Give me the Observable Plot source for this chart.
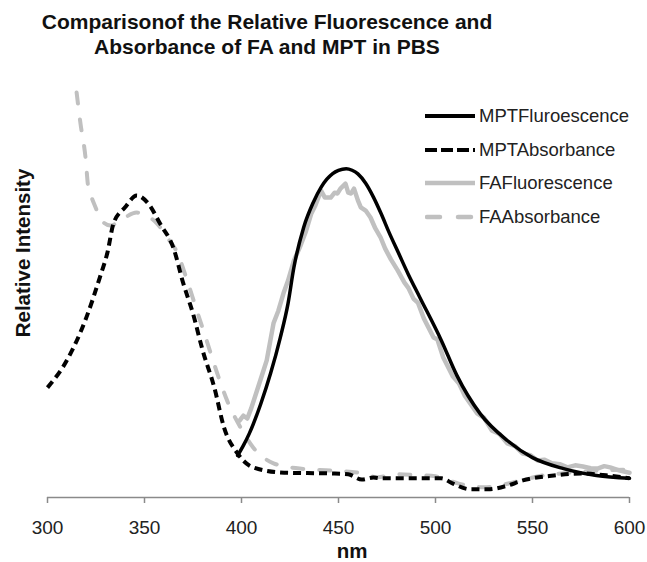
<!DOCTYPE html>
<html>
<head>
<meta charset="utf-8">
<script src="https://cdn.jsdelivr.net/npm/d3@7"></script>
<script src="https://cdn.jsdelivr.net/npm/@observablehq/plot@0.6"></script>
<style>
  html, body { margin: 0; padding: 0; background: #fff; }
  #wrap { position: relative; width: 647px; height: 562px; font-family: "Liberation Sans", Arial, sans-serif; color: #1a1a1a; overflow: hidden; }
  #wrap svg.plot { position: absolute; left: 0; top: 0; }
  .title { position: absolute; left: 17px; width: 500px; text-align: center; font-weight: bold; font-size: 21px; line-height: 25px; top: 9px; color: #111; white-space: nowrap; }
  .ylab { position: absolute; left: 23px; top: 253px; transform: translate(-50%, -50%) rotate(-90deg); font-weight: bold; font-size: 20.5px; line-height: 22px; white-space: nowrap; color: #111; }
  .xlab { position: absolute; left: 352px; top: 551px; transform: translate(-50%, -50%); font-weight: bold; font-size: 20.5px; line-height: 20px; color: #111; }
  .legend { position: absolute; left: 425px; top: 99px; }
  .legend .row { display: flex; align-items: center; height: 33.7px; font-size: 18.5px; color: #222; white-space: nowrap; }
  .legend svg { width: 54px; height: 12px; flex: none; }
</style>
</head>
<body>
<div id="wrap">
  <div class="title">Comparisonof the Relative Fluorescence and<br>Absorbance of FA and MPT in PBS</div>
  <div class="ylab">Relative Intensity</div>
  <div class="xlab">nm</div>
  <div class="legend" id="legend"></div>
</div>
<script>
// ---- data ----
const xTicks = [300, 350, 400, 450, 500, 550, 600];

const mptAbsNm = [300,310,320,327,331,334,340,346,352,358,365,370,375,380,386,391,398,406,422,446,455,462,468,472,489,503,509,518,527,537,545,561,575,589,600];
const mptAbsVal = [0.270,0.337,0.442,0.541,0.604,0.673,0.713,0.742,0.722,0.673,0.612,0.526,0.452,0.361,0.270,0.172,0.108,0.074,0.061,0.059,0.057,0.044,0.049,0.047,0.047,0.047,0.034,0.020,0.020,0.029,0.042,0.054,0.059,0.054,0.047];

const faAbsNm = [315,317,319.6,321,322,325,327,332.5,337.6,346,351,356.5,361.7,367,372,377,382,387.5,392.6,399.5,406,416.5,430,446,460,470,480,490,500,512,525,540,555,570,585,600];
const faAbsVal = [0.995,0.919,0.835,0.762,0.747,0.710,0.686,0.668,0.681,0.700,0.693,0.673,0.639,0.600,0.533,0.459,0.386,0.305,0.238,0.172,0.123,0.084,0.071,0.066,0.061,0.050,0.057,0.055,0.052,0.034,0.025,0.037,0.054,0.061,0.066,0.069];

const mptFluNm = [398,401,404,410,415,420,424,427,432,437,441,444,447,450,454,457,460,464,468,472,476,481,486,492,503,511,523,537,550,566,583,600];
const mptFluVal = [0.103,0.128,0.157,0.231,0.305,0.393,0.477,0.565,0.663,0.725,0.762,0.782,0.796,0.804,0.808,0.804,0.795,0.772,0.738,0.697,0.652,0.600,0.548,0.491,0.386,0.300,0.206,0.140,0.098,0.071,0.054,0.047];

const faFluNm = [399,401,403,405,408,411,413,416.5,419,421.6,424,427,430,433,436,438,441,443,446,448,449.5,451,453.6,455,456.5,458,460,461.5,464,466.5,469,471.6,474,477,480.5,484,486,488.7,491,494,499,501,504,509,512,515,521.6,525,529,533,537,541,545,549,552.6,556,560,564,568,572,576,580,583.5,587,590,595,600];
const faFluVal = [0.189,0.201,0.194,0.219,0.263,0.307,0.337,0.428,0.459,0.501,0.533,0.582,0.614,0.651,0.698,0.717,0.754,0.737,0.737,0.749,0.747,0.759,0.771,0.749,0.747,0.759,0.730,0.713,0.705,0.688,0.661,0.640,0.612,0.585,0.558,0.528,0.515,0.488,0.478,0.440,0.393,0.388,0.344,0.297,0.281,0.251,0.206,0.196,0.165,0.156,0.133,0.126,0.108,0.104,0.091,0.093,0.084,0.082,0.074,0.079,0.076,0.072,0.071,0.077,0.074,0.066,0.061];

const seriesNames = ["MPTFluroescence", "MPTAbsorbance", "FAFluorescence", "FAAbsorbance"];
const seriesColors = ["#000000", "#000000", "#c0c0c0", "#c0c0c0"];
const seriesWidths = [3.5, 4, 4.5, 4];
const seriesDash = ["none", "8,5", "none", "11,16"];
const seriesCaps = ["round", "butt", "round", "round"];

// ---- build ----
const zip = (xs, ys) => xs.map((x, i) => ({x, y: ys[i]}));
const mptAbs = zip(mptAbsNm, mptAbsVal);
const faAbs = zip(faAbsNm, faAbsVal);
const mptFlu = zip(mptFluNm, mptFluVal);
const faFlu = zip(faFluNm, faFluVal);

function lineMark(data, i, curve) {
  return Plot.line(data, {
    x: "x", y: "y", curve,
    stroke: seriesColors[i], strokeWidth: seriesWidths[i],
    strokeDasharray: seriesDash[i] === "none" ? undefined : seriesDash[i],
    strokeLinecap: seriesCaps[i], strokeLinejoin: "round"
  });
}

const chart = Plot.plot({
  width: 647,
  height: 562,
  marginLeft: 47,
  marginRight: 18,
  marginTop: 90,
  marginBottom: 65,
  style: {fontFamily: '"Liberation Sans", Arial, sans-serif', background: "transparent"},
  x: {domain: [300, 600], axis: null},
  y: {domain: [0, 1], axis: null},
  marks: [
    Plot.ruleY([0], {stroke: "#8a8a8a", strokeWidth: 1.5}),
    Plot.axisX({ticks: xTicks, tickSize: 6, tickPadding: 17, fontSize: 19, stroke: "#8a8a8a", fill: "#222", label: null, strokeWidth: 1.5}),
    lineMark(faFlu, 2, "linear"),
    lineMark(faAbs, 3, "monotone-x"),
    lineMark(mptFlu, 0, "monotone-x"),
    lineMark(mptAbs, 1, "monotone-x")
  ]
});
chart.classList.add("plot");
document.getElementById("wrap").prepend(chart);

// legend
const legend = document.getElementById("legend");
seriesNames.forEach((name, i) => {
  const row = document.createElement("div");
  row.className = "row";
  const dash = seriesDash[i] === "none" ? "" : ` stroke-dasharray="${i === 1 ? "12,4" : "13,18"}"`;
  const cap = i === 3 ? "round" : "butt";
  const x1 = i === 3 ? 2 : 0, x2 = i === 3 ? 48 : 50;
  row.innerHTML = `<svg viewBox="0 0 54 12"><line x1="${x1}" y1="6" x2="${x2}" y2="6" stroke="${seriesColors[i]}" stroke-width="${i >= 2 ? 4.5 : 4}" stroke-linecap="${cap}"${dash}/></svg><span>${name}</span>`;
  legend.appendChild(row);
});
</script>
</body>
</html>
